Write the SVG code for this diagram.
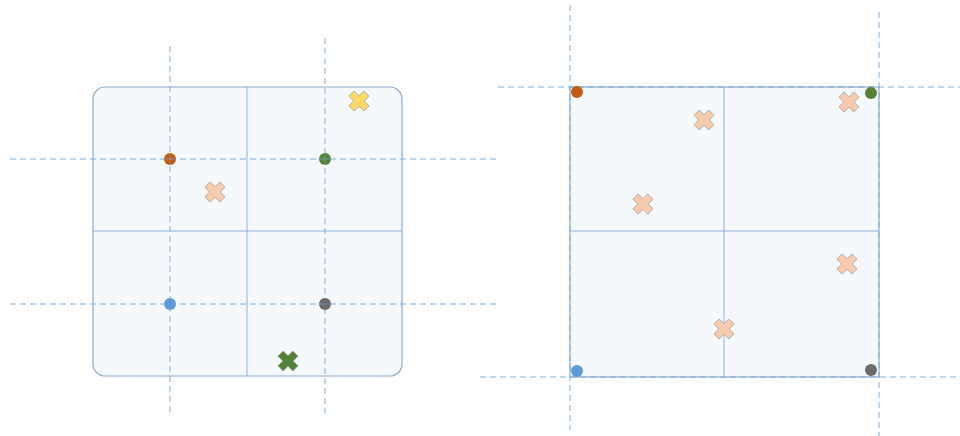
<svg xmlns="http://www.w3.org/2000/svg" xmlns:xlink="http://www.w3.org/1999/xlink" width="960" height="436" viewBox="0 0 960 436">
<style>
.panel{fill:#f5f9fc;stroke:#8eaacb;stroke-width:1.2}
.grid{stroke:#8db3da;stroke-width:1;fill:none}
.dash{stroke:#7aaedc;stroke-width:1;stroke-dasharray:6 4;fill:none}
.hair{stroke:#7aaedc;stroke-width:0.8;opacity:0.7}
.xo{stroke:#a0a0a0;stroke-width:0.8}
</style>
<defs>
<polygon id="cross" points="-3.7,-10.5 3.7,-10.5 3.7,-3.7 10.5,-3.7 10.5,3.7 3.7,3.7 3.7,10.5 -3.7,10.5 -3.7,3.7 -10.5,3.7 -10.5,-3.7 -3.7,-3.7" transform="rotate(45)"/>
</defs>
<rect width="960" height="436" fill="#ffffff"/>
<g id="left-panel">
<rect class="panel" x="93" y="87" width="309" height="289" rx="12"/>
<line class="grid" x1="247" y1="87" x2="247" y2="376"/>
<line class="grid" x1="93" y1="231" x2="402" y2="231"/>
</g>
<g id="right-panel">
<rect class="panel" x="570" y="87" width="309" height="290"/>
<line class="grid" x1="724" y1="87" x2="724" y2="377"/>
<line class="grid" x1="570" y1="231" x2="879" y2="231"/>
</g>
<g id="connectors">
<line class="dash" x1="170" y1="46" x2="170" y2="416"/>
<line class="dash" x1="325" y1="38" x2="325" y2="416"/>
<line class="dash" x1="10" y1="159" x2="498" y2="159"/>
<line class="dash" x1="10" y1="304" x2="498" y2="304"/>
<line class="dash" x1="570" y1="5" x2="570" y2="430"/>
<line class="dash" x1="879" y1="12" x2="879" y2="436"/>
<line class="dash" x1="498" y1="87" x2="960" y2="87"/>
<line class="dash" x1="480" y1="377" x2="960" y2="377"/>
</g>
<g id="left-points">
<circle cx="170" cy="159" r="6" fill="#c55a11"/>
<circle cx="325" cy="159" r="6" fill="#548235"/>
<circle cx="170" cy="304" r="6" fill="#5b9bd5"/>
<circle cx="325" cy="304" r="6" fill="#6b6b6b"/>
<line class="hair" x1="170" y1="153" x2="170" y2="165"/>
<line class="hair" x1="164" y1="159" x2="176" y2="159"/>
<line class="hair" x1="325" y1="153" x2="325" y2="165"/>
<line class="hair" x1="319" y1="159" x2="331" y2="159"/>
<line class="hair" x1="319" y1="304" x2="331" y2="304"/>
</g>
<g id="left-crosses">
<use xlink:href="#cross" href="#cross" class="xo" fill="#ffd966" transform="translate(359,101)"/>
<use xlink:href="#cross" href="#cross" class="xo" fill="#f8cbad" transform="translate(215,192)"/>
<use xlink:href="#cross" href="#cross" class="xo" fill="#538135" transform="translate(288,361)"/>
</g>
<g id="right-points">
<circle cx="577" cy="92" r="6" fill="#c55a11"/>
<circle cx="871" cy="93" r="6" fill="#548235"/>
<circle cx="577" cy="371" r="6" fill="#5b9bd5"/>
<circle cx="871" cy="370" r="6" fill="#6b6b6b"/>
</g>
<g id="right-crosses">
<use xlink:href="#cross" href="#cross" class="xo" fill="#f8cbad" transform="translate(704,120)"/>
<use xlink:href="#cross" href="#cross" class="xo" fill="#f8cbad" transform="translate(849,102)"/>
<use xlink:href="#cross" href="#cross" class="xo" fill="#f8cbad" transform="translate(643,204)"/>
<use xlink:href="#cross" href="#cross" class="xo" fill="#f8cbad" transform="translate(847,264)"/>
<use xlink:href="#cross" href="#cross" class="xo" fill="#f8cbad" transform="translate(724,329)"/>
</g>
</svg>
